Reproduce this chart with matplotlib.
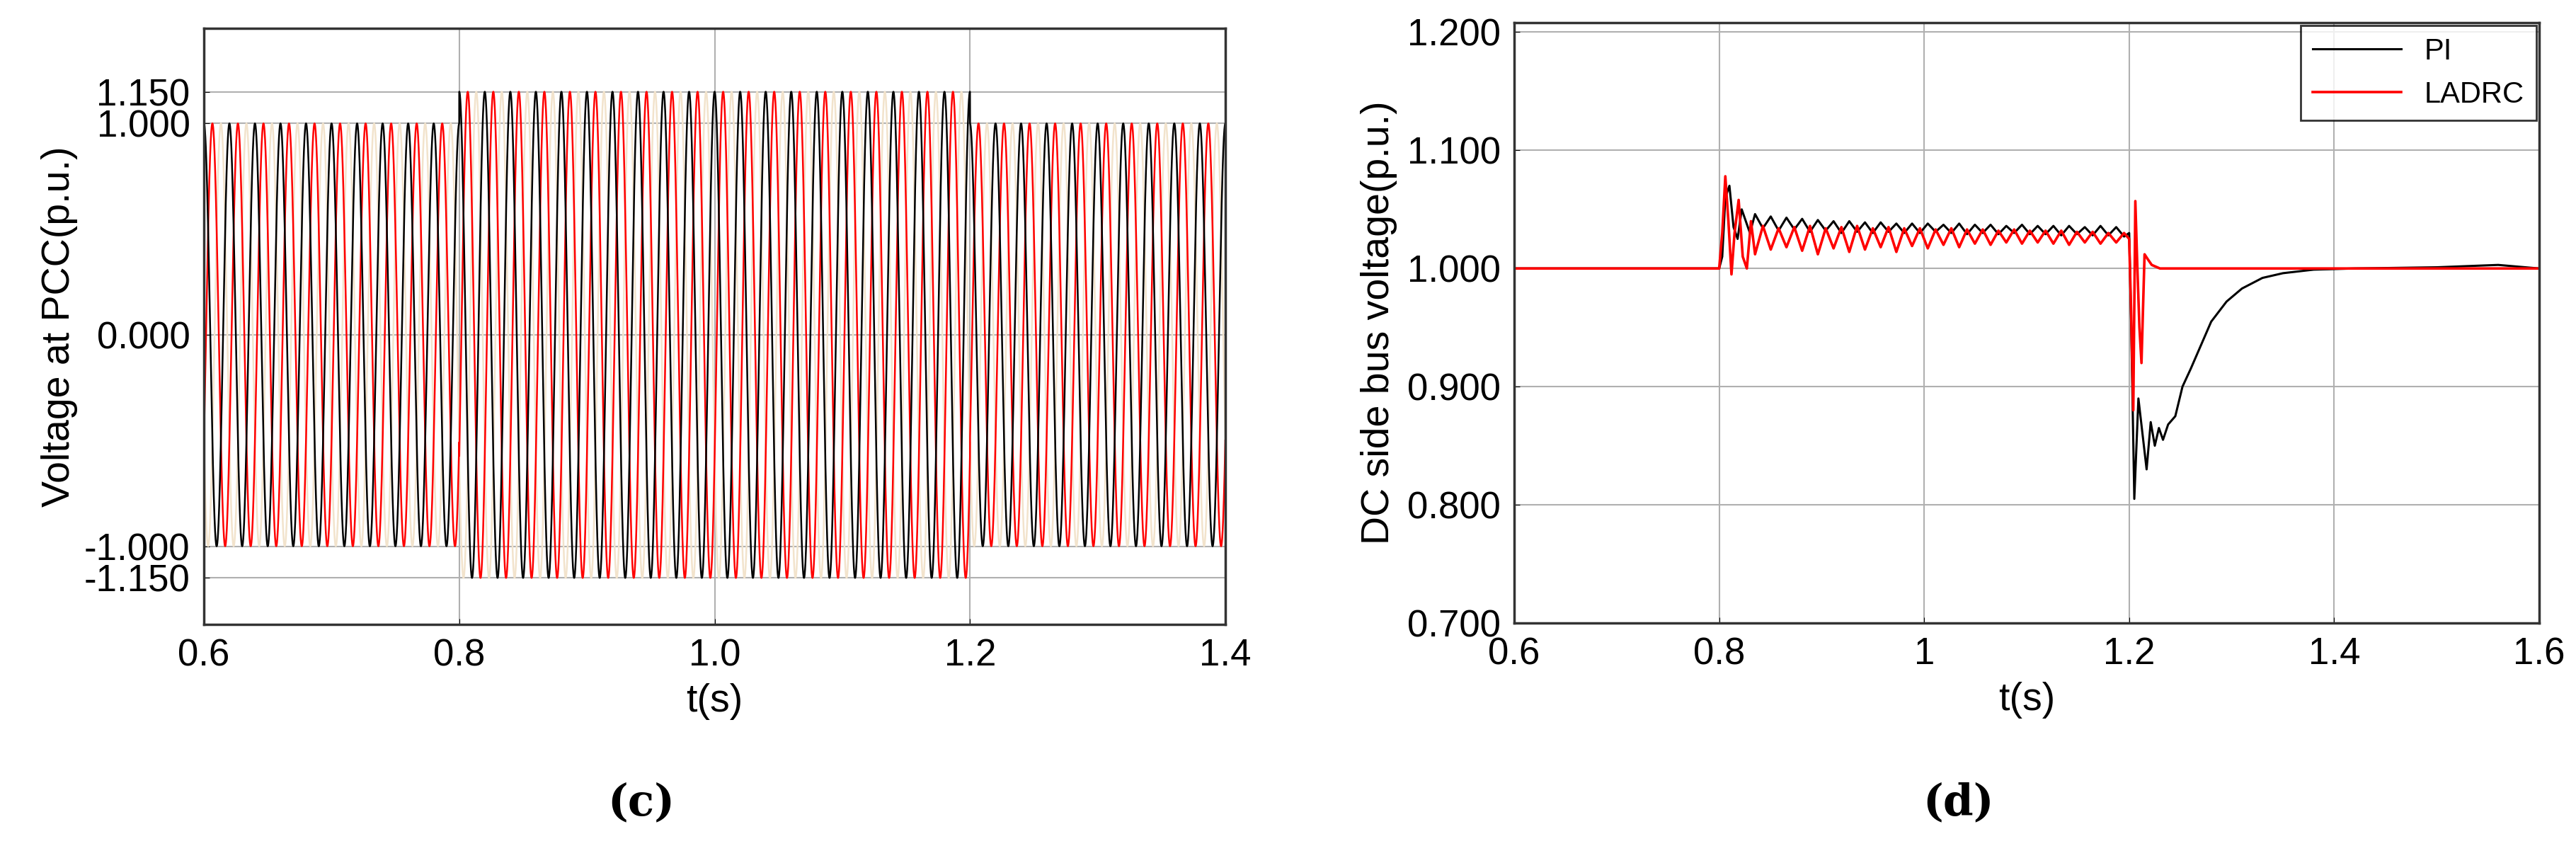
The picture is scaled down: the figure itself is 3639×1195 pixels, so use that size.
import numpy as np
import matplotlib.pyplot as plt

plt.rcParams['font.family'] = ['Liberation Sans', 'DejaVu Sans']

# ---- (c) voltage at PCC: three phases, 50 Hz, amplitude steps
seg_times = [0.6, 0.8, 1.2, 1.4]
seg_amps = [1.0, 1.15, 1.0]
freq_hz = 50.0
phase_deg = [0, -120, 120]
phase_colors = ['black', 'red', '#f2e3cc']

# ---- (d) DC side bus voltage
pi_t = [0.6, 0.8, 0.803, 0.806, 0.810, 0.814, 0.818, 0.822, 0.826, 0.830]
pi_v = [1.000, 1.000, 1.010, 1.060, 1.070, 1.035, 1.025, 1.050, 1.040, 1.030]
pi_ripple = [1.046, 1.034, 1.044, 1.032, 1.043, 1.033, 1.042, 1.031, 1.041, 1.032,
             1.040, 1.030, 1.040, 1.031, 1.039, 1.030, 1.039, 1.031, 1.038, 1.030,
             1.038, 1.030, 1.038, 1.031, 1.037, 1.030, 1.038, 1.029, 1.037, 1.030,
             1.037, 1.029, 1.036, 1.030, 1.037, 1.029, 1.036, 1.029, 1.036, 1.028,
             1.036, 1.029, 1.035, 1.028, 1.036, 1.028, 1.035, 1.027]
pi_tail_t = [1.200, 1.202, 1.205, 1.209, 1.213, 1.217, 1.221, 1.225, 1.229, 1.233,
             1.238, 1.245, 1.252, 1.260, 1.270, 1.280, 1.295, 1.310, 1.330, 1.350,
             1.380, 1.420, 1.500, 1.560, 1.600]
pi_tail_v = [1.030, 0.950, 0.805, 0.890, 0.860, 0.830, 0.870, 0.850, 0.865, 0.855,
             0.868, 0.875, 0.900, 0.915, 0.935, 0.955, 0.972, 0.983, 0.992, 0.996,
             0.999, 1.000, 1.001, 1.003, 1.000]

la_t = [0.6, 0.8, 0.803, 0.806, 0.809, 0.812, 0.815, 0.819, 0.823, 0.827, 0.831]
la_v = [1.000, 1.000, 1.030, 1.078, 1.040, 0.995, 1.030, 1.058, 1.010, 1.000, 1.040]
la_ripple = [1.012, 1.036, 1.016, 1.034, 1.018, 1.035, 1.015, 1.036, 1.012, 1.034,
             1.017, 1.035, 1.014, 1.036, 1.016, 1.034, 1.018, 1.035, 1.014, 1.034,
             1.019, 1.034, 1.017, 1.033, 1.020, 1.034, 1.018, 1.033, 1.021, 1.033,
             1.020, 1.032, 1.022, 1.033, 1.021, 1.032, 1.022, 1.032, 1.021, 1.032,
             1.020, 1.031, 1.022, 1.031, 1.021, 1.030, 1.022, 1.030]
la_tail_t = [1.200, 1.202, 1.204, 1.206, 1.208, 1.210, 1.212, 1.215, 1.218, 1.222,
             1.230, 1.600]
la_tail_v = [1.025, 0.960, 0.880, 1.057, 1.000, 0.950, 0.920, 1.012, 1.008, 1.003,
             1.000, 1.000]

fig = plt.figure(figsize=(36.39, 11.95), dpi=100)
ax1 = fig.add_axes([288 / 3639, 1 - 882 / 1195, (1731 - 288) / 3639, (882 - 40) / 1195])
ax2 = fig.add_axes([2139 / 3639, 1 - 880 / 1195, (3587 - 2139) / 3639, (880 - 32) / 1195])

# (c)
t = np.linspace(seg_times[0], seg_times[-1], 20000)
amp = np.piecewise(t, [(t >= a) & (t < b) for a, b in zip(seg_times[:-1], seg_times[1:])], seg_amps + [seg_amps[-1]])
for ph, col in zip(phase_deg[::-1], phase_colors[::-1]):
    ax1.plot(t, amp * np.sin(2 * np.pi * freq_hz * t + np.deg2rad(ph) + np.pi / 2),
             color=col, lw=1.8)
ax1.set_xlim(0.6, 1.4)
ax1.set_ylim(-1.37, 1.45)
ax1.set_xticks([0.6, 0.8, 1.0, 1.2, 1.4])
ax1.set_xticklabels(['0.6', '0.8', '1.0', '1.2', '1.4'])
ax1.set_yticks([-1.15, -1.0, 0.0, 1.0, 1.15])
ax1.set_yticklabels(['-1.150', '-1.000', '0.000', '1.000', '1.150'])
ax1.set_xlabel('t(s)', fontsize=40, labelpad=10)
ax1.set_ylabel('Voltage at PCC(p.u.)', fontsize=40, labelpad=6)

# (d)
pi_rt = np.linspace(0.835, 1.195, len(pi_ripple))
la_rt = np.linspace(0.835, 1.195, len(la_ripple))
ax2.plot(pi_t + list(pi_rt) + pi_tail_t, pi_v + pi_ripple + pi_tail_v,
         color='black', lw=2.2, label='PI')
ax2.plot(la_t + list(la_rt) + la_tail_t, la_v + la_ripple + la_tail_v,
         color='red', lw=2.6, label='LADRC')
ax2.set_xlim(0.6, 1.6)
ax2.set_ylim(0.7, 1.208)
ax2.set_xticks([0.6, 0.8, 1.0, 1.2, 1.4, 1.6])
ax2.set_xticklabels(['0.6', '0.8', '1', '1.2', '1.4', '1.6'])
ax2.set_yticks([0.7, 0.8, 0.9, 1.0, 1.1, 1.2])
ax2.set_yticklabels(['0.700', '0.800', '0.900', '1.000', '1.100', '1.200'])
ax2.set_xlabel('t(s)', fontsize=40, labelpad=10)
ax2.set_ylabel('DC side bus voltage(p.u.)', fontsize=40, labelpad=10)
leg = ax2.legend(loc='upper right', fontsize=30, frameon=True, fancybox=False,
                 borderaxespad=0.1, handlelength=3.0)
leg.get_frame().set_edgecolor('black')
leg.get_frame().set_linewidth(2)

for ax in (ax1, ax2):
    ax.grid(True, color='#b0b0b0', lw=1.5)
    ax.tick_params(labelsize=38, direction='in', length=6, pad=14)
    for s in ax.spines.values():
        s.set_linewidth(2.5)
        s.set_color('#333333')

fig.text(906 / 3639, 1 - 1134 / 1195, '(c)', fontsize=44, fontweight='bold',
         family='DejaVu Serif', ha='center', va='center')
fig.text(2767 / 3639, 1 - 1134 / 1195, '(d)', fontsize=44, fontweight='bold',
         family='DejaVu Serif', ha='center', va='center')

fig.savefig('out.png', dpi=100)
